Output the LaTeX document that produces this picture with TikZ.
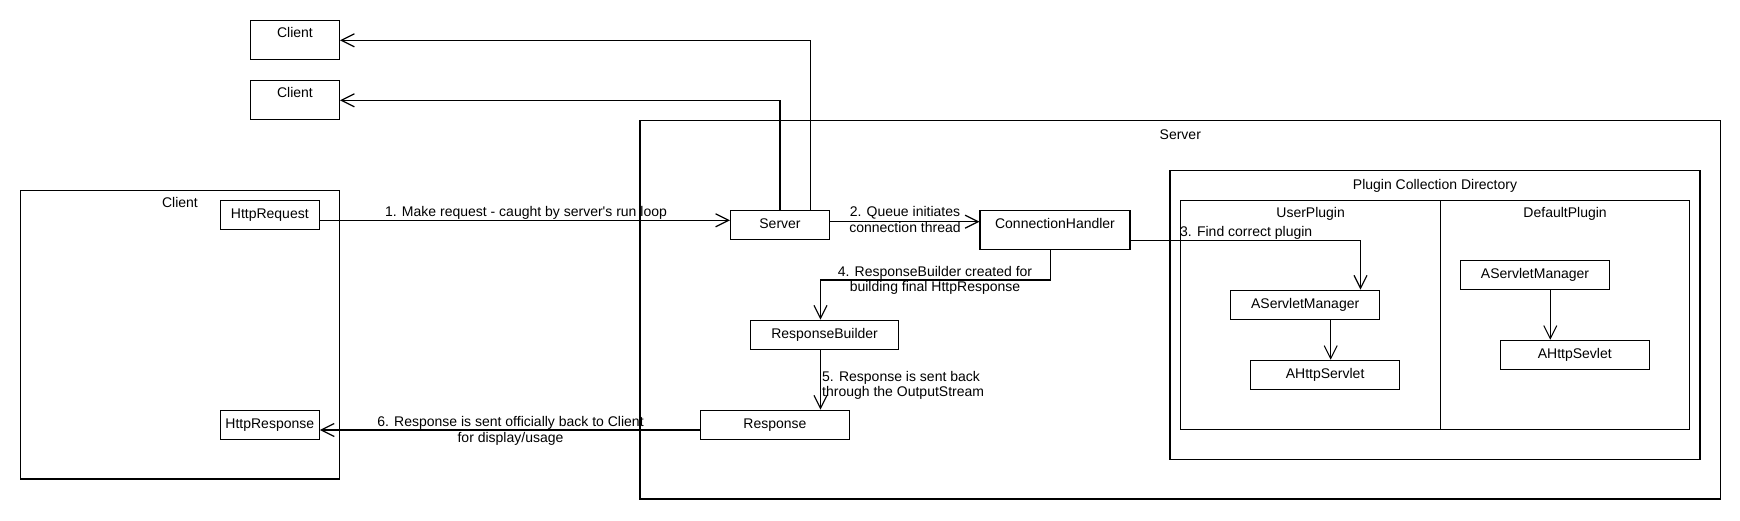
\documentclass[tikz,border=0pt]{standalone}
\usepackage{fontspec}
\setmainfont{Liberation Sans}
\usetikzlibrary{arrows.meta}
\newcommand{\mystrut}{\rule{0pt}{11pt}}
\tikzset{
  box/.style={draw, line width=1.2pt, inner sep=0pt, text height=10pt, text depth=3pt},
  toplbl/.style={anchor=north, inner sep=0pt, text height=10pt, text depth=0pt},
  conn/.style={line width=1.2pt, -{Straight Barb[length=13pt,width=13pt]}},
  lab/.style={inner sep=0pt},
}
\begin{document}
\begin{tikzpicture}[x=1pt,y=-1pt,font=\fontsize{14pt}{15.7pt}\selectfont]
\useasboundingbox (0,0) rectangle (1740,520);
% containers
\node[box, minimum width=1080.6pt, minimum height=378.7pt, label={[toplbl,yshift=-9.7pt]north:Server}] (srvbox) at (1180.3,309.65) {};
\node[box, minimum width=530pt, minimum height=289pt, label={[toplbl,yshift=-10pt]north:Plugin Collection Directory}] (pcd) at (1435,314.8) {};
\node[box, minimum width=259.7pt, minimum height=229pt, label={[toplbl,yshift=-8pt]north:UserPlugin}] (up) at (1310.65,314.8) {};
\node[box, minimum width=249.2pt, minimum height=229pt, label={[toplbl,yshift=-8pt]north:DefaultPlugin}] (dp) at (1565.1,314.8) {};
\node[box, minimum width=318.6pt, minimum height=288.3pt, label={[toplbl,yshift=-7.6pt]north:Client}] (cl) at (180,334.85) {};
\node[box, minimum width=89pt, minimum height=39pt, label={[toplbl,yshift=-8pt]north:Client}] (c1) at (295,39.8) {};
\node[box, minimum width=89pt, minimum height=39pt, label={[toplbl,yshift=-8pt]north:Client}] (c2) at (295,99.8) {};
% inner nodes
\node[box, minimum width=99pt, minimum height=28.6pt] (req) at (269.8,215) {HttpRequest};
\node[box, minimum width=99pt, minimum height=29pt] (hresp) at (269.8,424.8) {HttpResponse};
\node[box, minimum width=99pt, minimum height=28.8pt] (srv) at (780,224.9) {Server};
\node[box, minimum width=150pt, minimum height=38.8pt, text depth=13.4pt] (ch) at (1055,229.9) {ConnectionHandler};
\node[box, minimum width=148.2pt, minimum height=29pt] (rb) at (824.6,334.8) {ResponseBuilder};
\node[box, minimum width=149.3pt, minimum height=29pt] (rs) at (775,424.8) {Response};
\node[box, minimum width=148.7pt, minimum height=29pt] (usm) at (1305.15,304.8) {AServletManager};
\node[box, minimum width=148.8pt, minimum height=29pt] (uhs) at (1325.1,374.8) {AHttpServlet};
\node[box, minimum width=148.6pt, minimum height=29pt] (dsm) at (1535,274.8) {AServletManager};
\node[box, minimum width=149pt, minimum height=29pt] (dhs) at (1574.8,354.8) {AHttpSevlet};
% connectors
\draw[conn] (req.east |- 0,220.3) -- (srv.west |- 0,220.3);
\draw[conn] (srv.east |- 0,221.7) -- (ch.west |- 0,221.7);
\draw[conn] (ch.east |- 0,240.7) -| (usm.north -| 1360.5,0);
\draw[conn] (ch.south -| 1050.7,0) -- (1050.7,280) -- (820.5,280) -- (rb.north -| 820.5,0);
\draw[conn] (rb.south -| 820.5,0) -- (rs.north -| 820.5,0);
\draw[conn] (rs.west |- 0,430) -- (hresp.east |- 0,430);
\draw[conn] (srv.north -| 780,0) |- (c2.east |- 0,100.3);
\draw[conn] (srv.north -| 810.4,0) |- (c1.east |- 0,40.3);
\draw[conn, line width=1pt] (usm.south -| 1330.7,0) -- (uhs.north -| 1330.7,0);
\draw[conn, line width=1pt] (dsm.south -| 1550.3,0) -- (dhs.north -| 1550.3,0);
% labels
\node[lab, anchor=base] (l1) at (526,216.5) {1. Make request - caught by server\textquotesingle s run loop};
\node[lab, align=center, anchor=north] (l2) at (905,205.7) {\mystrut 2. Queue initiates\\connection thread};
\node[lab, anchor=base west] (l3) at (1180,236.5) {3. Find correct plugin};
\node[lab, align=center, anchor=north] (l4) at (935,265) {\mystrut 4. ResponseBuilder created for\\building final HttpResponse};
\node[lab, align=left, anchor=north west] (l5) at (822,370) {\mystrut 5. Response is sent back\\through the OutputStream};
\node[lab, align=center, anchor=north] (l6) at (510.5,415.7) {\mystrut 6. Response is sent officially back to Client\\for display/usage};
\end{tikzpicture}
\end{document}
